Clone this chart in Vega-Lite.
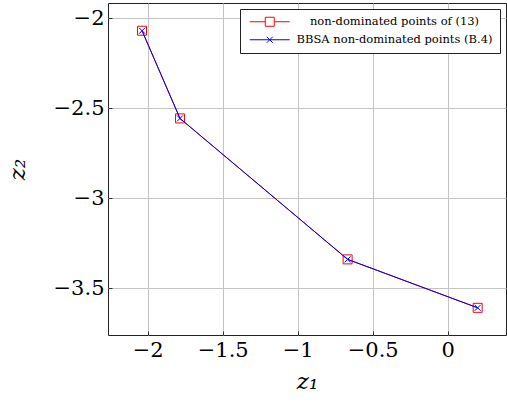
{
  "$schema": "https://vega.github.io/schema/vega-lite/v6.json",
  "width": 398,
  "height": 332,
  "autosize": {"type": "none"},
  "padding": {"left": 108, "top": 3, "right": 1, "bottom": 73},
  "config": {
    "view": {"stroke": "#222", "strokeWidth": 1},
    "axis": {
      "domain": false,
      "gridColor": "#c4c4c4",
      "gridWidth": 1,
      "labelFont": "DejaVu Serif",
      "labelFontSize": 21,
      "labelColor": "#000",
      "titleFont": "DejaVu Serif",
      "titleFontSize": 23,
      "titleFontStyle": "italic",
      "titleFontWeight": "normal",
      "titleColor": "#000",
      "tickColor": "#333",
      "tickSize": -4
    },
    "legend": {
      "labelFont": "DejaVu Serif",
      "labelFontSize": 11.5,
      "labelColor": "#000"
    }
  },
  "data": {
    "values": [
      {"series": "non-dominated points of (13)", "z1": -2.038, "z2": -2.069},
      {"series": "non-dominated points of (13)", "z1": -1.785, "z2": -2.556},
      {"series": "non-dominated points of (13)", "z1": -0.667, "z2": -3.339},
      {"series": "non-dominated points of (13)", "z1": 0.2, "z2": -3.608},
      {"series": "BBSA non-dominated points (B.4)", "z1": -2.038, "z2": -2.069},
      {"series": "BBSA non-dominated points (B.4)", "z1": -1.785, "z2": -2.556},
      {"series": "BBSA non-dominated points (B.4)", "z1": -0.667, "z2": -3.339},
      {"series": "BBSA non-dominated points (B.4)", "z1": 0.2, "z2": -3.608}
    ]
  },
  "encoding": {
    "x": {
      "field": "z1",
      "type": "quantitative",
      "scale": {"domain": [-2.265, 0.389], "nice": false, "zero": false},
      "axis": {"values": [-2, -1.5, -1, -0.5, 0], "format": "~g", "title": "z₁", "labelPadding": 8, "titlePadding": 10}
    },
    "y": {
      "field": "z2",
      "type": "quantitative",
      "scale": {"domain": [-3.759, -1.915], "nice": false, "zero": false},
      "axis": {"values": [-3.5, -3, -2.5, -2], "format": "~g", "title": "z₂", "labelPadding": 8, "titlePadding": 24}
    }
  },
  "layer": [
    {
      "transform": [{"filter": "datum.series === 'non-dominated points of (13)'"}],
      "mark": {"type": "line", "strokeWidth": 1},
      "encoding": {
        "color": {
          "field": "series",
          "type": "nominal",
          "scale": {"domain": ["non-dominated points of (13)", "BBSA non-dominated points (B.4)"], "range": ["#ff0000", "#0000ff"]},
          "legend": {
            "orient": "top-right",
            "offset": 6,
            "title": null,
            "labelFont": "DejaVu Serif",
            "labelFontSize": 11.5,
            "labelColor": "#000",
            "labelLimit": 400,
            "labelAlign": "center",
            "strokeColor": "#222",
            "fillColor": "#ffffff",
            "padding": 7,
            "rowPadding": 4,
            "symbolSize": 64,
            "symbolOffset": 17,
            "labelOffset": 119,
            "encode": {
              "symbols": {
                "update": {
                  "shape": {"signal": "datum.value === 'BBSA non-dominated points (B.4)' ? 'M-5,0H5M-0.75,-0.75L0.75,0.75M-0.75,0.75L0.75,-0.75' : 'M-5,0H-1.125M1.125,0H5M-1.125,-1.125H1.125V1.125H-1.125Z'"},
                  "fill": {"value": "transparent"},
                  "strokeWidth": {"value": 1}
                }
              }
            }
          }
        }
      }
    },
    {
      "transform": [{"filter": "datum.series === 'non-dominated points of (13)'"}],
      "mark": {"type": "point", "shape": "square", "filled": false, "color": "#ff0000", "size": 81, "strokeWidth": 1, "opacity": 1}
    },
    {
      "transform": [{"filter": "datum.series === 'BBSA non-dominated points (B.4)'"}],
      "mark": {"type": "line", "strokeWidth": 1},
      "encoding": {
        "color": {"field": "series", "type": "nominal"}
      }
    },
    {
      "transform": [{"filter": "datum.series === 'BBSA non-dominated points (B.4)'"}],
      "mark": {"type": "point", "shape": "M-1,-1L1,1M-1,1L1,-1", "filled": false, "color": "#0000ff", "size": 36, "strokeWidth": 1, "opacity": 1}
    }
  ]
}
